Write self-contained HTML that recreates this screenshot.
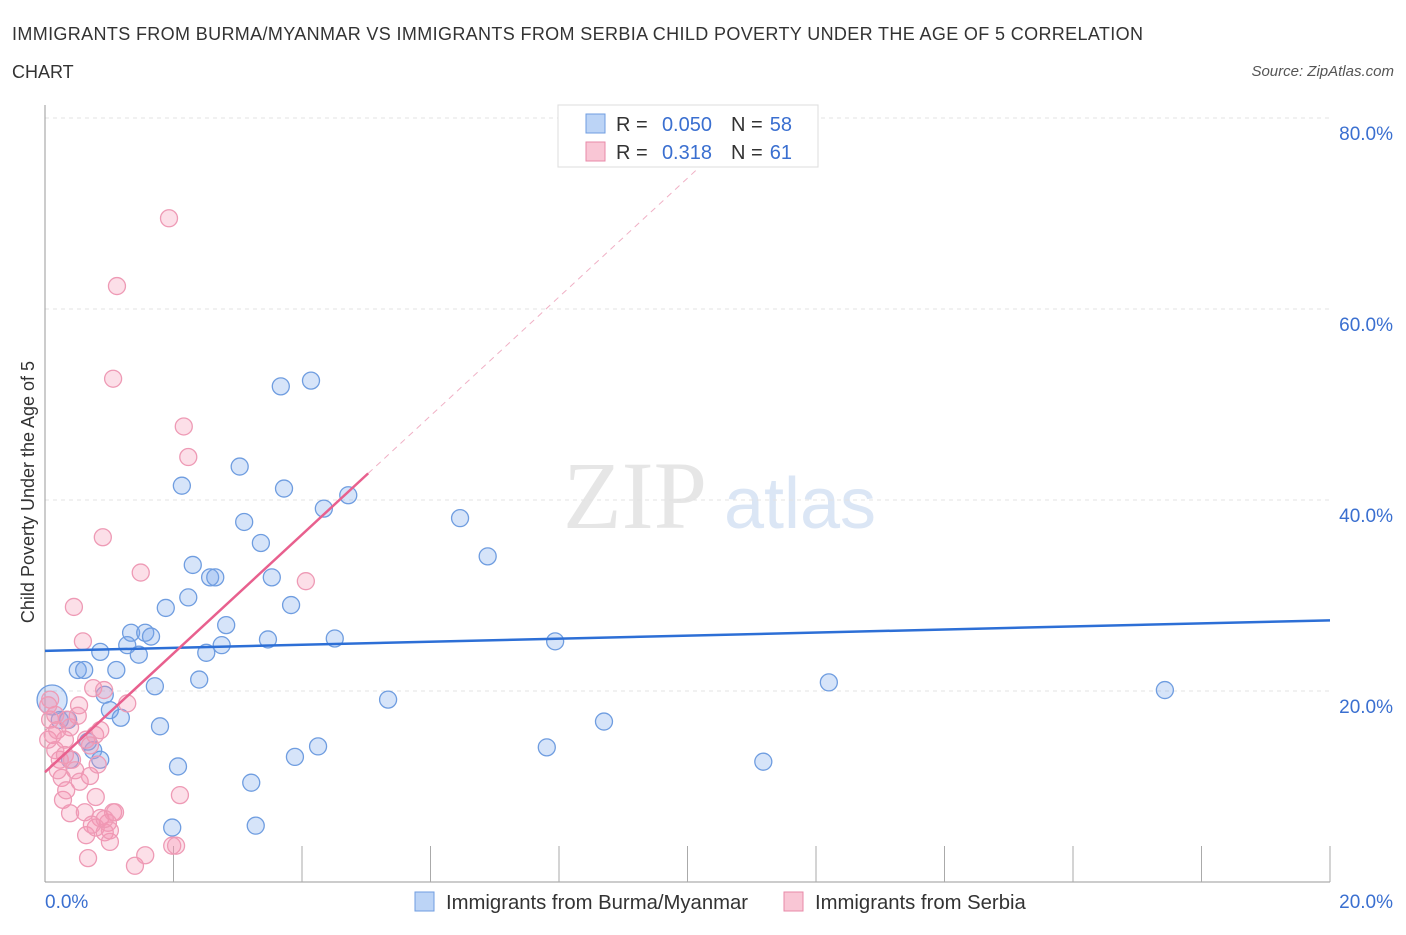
<!DOCTYPE html>
<html><head><meta charset="utf-8"><style>
body{margin:0;background:#fff;font-family:"Liberation Sans",sans-serif}
</style></head><body>
<svg id="c" width="1406" height="930" viewBox="0 0 1406 930" xmlns="http://www.w3.org/2000/svg">
<text x="12" y="40" font-size="18" fill="#333" textLength="1131">IMMIGRANTS FROM BURMA/MYANMAR VS IMMIGRANTS FROM SERBIA CHILD POVERTY UNDER THE AGE OF 5 CORRELATION</text>
<text x="12" y="78" font-size="18" fill="#333">CHART</text>
<text x="1394" y="76" font-size="15" fill="#555" font-style="italic" text-anchor="end">Source: ZipAtlas.com</text>
<text x="635" y="528" font-size="96" fill="#e6e6e6" font-family="Liberation Serif" text-anchor="middle">ZIP</text>
<text x="800" y="528" font-size="72" fill="#dbe6f5" text-anchor="middle">atlas</text>
<g id="grid"></g><g id="axes"></g><g id="pts"></g><g id="trends"></g>
<text transform="translate(34,492) rotate(-90)" font-size="18" fill="#333" text-anchor="middle">Child Poverty Under the Age of 5</text>
<g>
<rect x="558" y="105" width="260" height="62" fill="#fff" stroke="#ddd"/>
<rect x="586" y="114" width="19" height="19" fill="#bcd4f6" stroke="#6f9de0"/>
<text x="616" y="131" font-size="20" fill="#333">R =</text>
<text x="712" y="131" font-size="20" fill="#3a6fd0" text-anchor="end">0.050</text>
<text x="731" y="131" font-size="20" fill="#333">N =</text>
<text x="792" y="131" font-size="20" fill="#3a6fd0" text-anchor="end">58</text>
<rect x="586" y="142" width="19" height="19" fill="#f9c6d5" stroke="#e889a8"/>
<text x="616" y="159" font-size="20" fill="#333">R =</text>
<text x="712" y="159" font-size="20" fill="#3a6fd0" text-anchor="end">0.318</text>
<text x="731" y="159" font-size="20" fill="#333">N =</text>
<text x="792" y="159" font-size="20" fill="#3a6fd0" text-anchor="end">61</text>
</g>
<g>
<rect x="415" y="892" width="19" height="19" fill="#bcd4f6" stroke="#6f9de0"/>
<text x="446" y="909" font-size="20.3" fill="#333">Immigrants from Burma/Myanmar</text>
<rect x="784" y="892" width="19" height="19" fill="#f9c6d5" stroke="#e889a8"/>
<text x="815" y="909" font-size="20.3" fill="#333">Immigrants from Serbia</text>
</g>
</svg>
<script>
const blueX=[0.11,0.23,0.36,0.51,0.61,0.86,0.93,1.01,1.11,1.18,0.75,0.67,0.39,1.34,1.28,1.56,1.65,1.46,1.71,1.88,2.13,2.30,2.23,2.40,2.51,2.57,2.65,2.75,2.82,3.03,3.10,3.36,3.47,3.53,3.67,3.72,3.83,3.89,4.14,4.25,4.34,4.51,4.72,5.34,6.46,6.89,7.94,7.81,8.70,11.18,12.20,17.43,2.07,1.79,3.21,3.28,1.98,0.86];
const blueY=[19.06,16.96,16.96,22.2,22.2,24.1,19.6,18.0,22.2,17.2,13.8,14.7,12.8,26.1,24.8,26.1,25.7,23.8,20.5,28.7,41.5,33.2,29.8,21.2,24.0,31.9,31.9,24.8,26.9,43.5,37.7,35.5,25.4,31.9,51.9,41.2,29.0,13.1,52.5,14.2,39.1,25.5,40.5,19.1,38.1,34.1,25.2,14.1,16.8,12.6,20.9,20.1,12.1,16.3,10.4,5.9,5.7,12.8];
const pinkX=[1.93,1.12,1.06,2.16,2.23,0.90,1.49,4.06,0.45,0.59,0.75,0.92,0.53,0.51,1.28,0.78,0.08,0.12,0.16,0.23,0.31,0.39,0.42,0.47,0.26,0.54,0.70,0.20,0.05,0.08,0.64,0.86,0.28,0.39,0.62,0.79,0.86,0.98,1.06,1.09,0.79,0.93,1.01,0.64,0.67,1.40,1.56,1.98,2.04,2.10,0.82,0.31,0.19,0.34,0.70,0.16,1.01,0.73,0.93,0.05,0.33];
const pinkY=[69.5,62.4,52.7,47.7,44.5,36.1,32.4,31.5,28.8,25.2,20.3,20.1,18.5,17.4,18.7,15.4,19.1,15.4,13.8,12.8,13.3,16.2,12.8,11.7,10.9,10.5,11.1,11.7,14.9,17.0,14.9,15.9,8.6,7.2,7.3,8.9,6.7,6.2,7.3,7.3,5.7,5.2,4.2,4.9,2.5,1.7,2.8,3.8,3.8,9.1,12.3,14.9,15.9,17.0,14.3,17.5,5.4,6.0,6.6,18.5,9.6];
const yTicks=[20,40,60,80];
const yTickLabels=["20.0%","40.0%","60.0%","80.0%"];
const blueTrend=[24.2,27.4];
const pinkTrend=[11.5,6.22];
const NS="http://www.w3.org/2000/svg";
const X=v=>45+v*64.25, Y=v=>882-v*9.55;
function mk(p,t,a){const e=document.createElementNS(NS,t);for(const k in a)e.setAttribute(k,a[k]);document.getElementById(p).appendChild(e);return e;}
yTicks.forEach((t,i)=>{
 const g=mk('grid','line',{x1:45,x2:1330,y1:Y(t),y2:Y(t),stroke:'#e3e3e3','stroke-dasharray':'4,4'});
 
 
 const l=mk('grid','text',{x:1393,y:Y(t)+22,'font-size':19,fill:'#3a6fd0','text-anchor':'end'});l.textContent=yTickLabels[i];
 
 
});
let a=mk('axes','line',{x1:45,x2:45,y1:105,y2:882,stroke:'#999'});


a=mk('axes','line',{x1:45,x2:1330,y1:882,y2:882,stroke:'#999'});


for(let i=1;i<=10;i++){const t=mk('axes','line',{x1:X(i*2),x2:X(i*2),y1:846,y2:882,stroke:'#aaa'});
 
 }
let t=mk('axes','text',{x:45,y:908,'font-size':19,fill:'#3a6fd0'});t.textContent='0.0%';


t=mk('axes','text',{x:1393,y:908,'font-size':19,fill:'#3a6fd0','text-anchor':'end'});t.textContent='20.0%';


blueX.forEach((v,i)=>{const c=mk('pts','circle',{cx:X(v),cy:Y(blueY[i]),r:i==0?15:8.5,fill:'rgba(120,165,235,0.3)',stroke:'#6f9de0','stroke-width':1.3});
 
 });
pinkX.forEach((v,i)=>{const c=mk('pts','circle',{cx:X(v),cy:Y(pinkY[i]),r:8.5,fill:'rgba(244,150,180,0.3)',stroke:'#ee9ab5','stroke-width':1.3});
 
 });
let l=mk('trends','line',{x1:X(0),y1:Y(blueTrend[0]),x2:X(20),y2:Y(blueTrend[1]),stroke:'#2d6fd6','stroke-width':2.5});


const pe=10.2,ps=5.03;
l=mk('trends','line',{x1:X(ps),y1:Y(pinkTrend[0]+pinkTrend[1]*ps),x2:X(pe),y2:Y(pinkTrend[0]+pinkTrend[1]*pe),stroke:'#f0b0c5','stroke-width':1,'stroke-dasharray':'6,5'});


l=mk('trends','line',{x1:X(0),y1:Y(pinkTrend[0]),x2:X(ps),y2:Y(pinkTrend[0]+pinkTrend[1]*ps),stroke:'#e8608e','stroke-width':2.5});


</script>
</body></html>
